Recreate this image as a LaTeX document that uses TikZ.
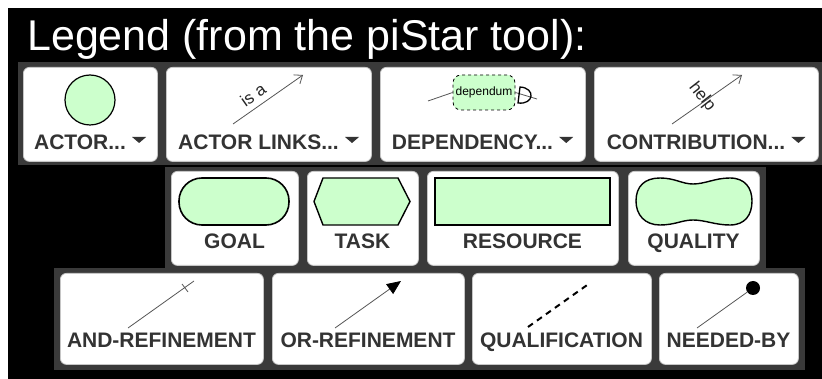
\documentclass[tikz,border=0pt]{standalone}
\usepackage{fontspec}
\setmainfont{Liberation Sans}
\usetikzlibrary{arrows.meta}
\definecolor{band}{HTML}{3A3A3A}
\definecolor{lg}{HTML}{CCFFCC}
\definecolor{lbl}{HTML}{333333}
\definecolor{lnk}{HTML}{555555}
\tikzset{
  btn/.style={fill=white, draw=gray!45, line width=0.8pt, rounded corners=6pt, anchor=north west, inner sep=0pt},
  lab/.style={font=\bfseries\fontsize{21}{21}\selectfont, text=lbl, anchor=base, inner sep=0pt},
  shp/.style={fill=lg, draw=black},
  lnkline/.style={draw=lnk, line width=0.8pt},
  small/.style={font=\fontsize{17}{17}\selectfont, text=black!85, inner sep=0pt},
  ddtri/.style={fill=lbl}
}
\begin{document}
\begin{tikzpicture}[x=1pt,y=-1pt]
\useasboundingbox (0,0) rectangle (822,379);
\fill[white] (0,0) rectangle (822,379);
\fill[black] (8,8) rectangle (822,379);
% bands
\fill[band] (18,62) rectangle (822,165);
\fill[band] (165,167) rectangle (766,268);
\fill[band] (54,268) rectangle (805,370);
% title
\node[font=\fontsize{43}{43}\selectfont, text=white, anchor=base west, inner sep=0pt] (title) at (27,51) {Legend (from the piStar tool):};
% row 1 buttons
\node[btn, minimum width=134, minimum height=94] (bA) at (23,67) {};
\node[btn, minimum width=205, minimum height=94] (bAL) at (166,67) {};
\node[btn, minimum width=205, minimum height=94] (bD) at (380,67) {};
\node[btn, minimum width=224, minimum height=94] (bC) at (594,67) {};
% row 2 buttons
\node[btn, minimum width=127, minimum height=94] (bG) at (171,171) {};
\node[btn, minimum width=111, minimum height=94] (bT) at (307,171) {};
\node[btn, minimum width=191, minimum height=94] (bR) at (427,171) {};
\node[btn, minimum width=131, minimum height=94] (bQ) at (628,171) {};
% row 3 buttons
\node[btn, minimum width=203, minimum height=91] (bAND) at (60,273) {};
\node[btn, minimum width=192, minimum height=91] (bOR) at (272,273) {};
\node[btn, minimum width=179, minimum height=91] (bQF) at (472,273) {};
\node[btn, minimum width=139, minimum height=91] (bNB) at (659,273) {};
% row 1 labels with dropdown triangles
\node[lab] (lA) at (80,150) {ACTOR...};
\node[lab] (lAL) at (258.5,150) {ACTOR LINKS...};
\node[lab] (lD) at (472.5,150) {DEPENDENCY...};
\node[lab] (lC) at (696,150) {CONTRIBUTION...};
\foreach \n in {lA,lAL,lD,lC}{
  \fill[ddtri] ([xshift=6pt,yshift=13pt]\n.base east) -- ++(14,0) -- ++(-7,6) -- cycle;
}
% row 2 labels
\node[lab] (lG) at (234.5,249) {GOAL};
\node[lab] (lT) at (362.5,249) {TASK};
\node[lab] (lR) at (522.5,249) {RESOURCE};
\node[lab] (lQ) at (693.5,249) {QUALITY};
% row 3 labels
\node[lab] (lAND) at (161.5,348) {AND-REFINEMENT};
\node[lab] (lOR) at (368,348) {OR-REFINEMENT};
\node[lab] (lQF) at (561.5,348) {QUALIFICATION};
\node[lab] (lNB) at (728.5,348) {NEEDED-BY};
% actor
\node[shp, circle, minimum size=50, line width=1.2pt, inner sep=0pt] (actor) at (90,100) {};
% actor link
\coordinate (al1) at (233,124);
\coordinate (al2) at (303,75);
\draw[lnkline, -{Straight Barb[length=7pt,width=11pt]}] (al1) -- (al2);
\node[small, rotate=35] (isa) at (253,95) {is a};
% dependency
\node[shp, dashed, line width=0.8pt, rounded corners=8pt, minimum width=62, minimum height=35, inner sep=0pt, font=\fontsize{12}{12}\selectfont] (dep) at (484,92.5) {dependum};
\coordinate (dl) at (428,101);
\coordinate (dr) at (537,99);
\draw[lnkline] (dl) -- (dep.west);
\draw[lnkline] (dep.east) -- (dr);
\draw[black, line width=1.3pt] (520,87) -- (518,103) .. controls (534,105) and (536,88) .. (520,87) -- cycle;
% contribution
\coordinate (c1) at (672,124);
\coordinate (c2) at (742,75);
\draw[lnkline, -{Straight Barb[length=7pt,width=11pt]}] (c1) -- (c2);
\node[small, rotate=-52] (help) at (702,97) {help};
% goal
\node[shp, line width=1.6pt, rounded corners=23pt, minimum width=110, minimum height=47, inner sep=0pt] (goal) at (234,201.5) {};
% task
\draw[shp, line width=1.4pt] (314,201.5) -- (323,178) -- (398,178) -- (410,201.5) -- (398,225) -- (323,225) -- cycle;
% resource
\draw[shp, line width=1.8pt] (435,178) rectangle (610,225);
% quality
\draw[shp, line width=1.4pt] (636,201) .. controls (636,186) and (645,178) .. (660,178) .. controls (675,178) and (682,184) .. (693,184) .. controls (705,184) and (715,178) .. (730,178) .. controls (745,178) and (752,188) .. (752,201) .. controls (752,215) and (745,225) .. (730,225) .. controls (715,225) and (705,220) .. (693,220) .. controls (682,220) and (675,225) .. (660,225) .. controls (645,225) and (636,215) .. (636,201) -- cycle;
% and-refinement
\coordinate (and1) at (128,328);
\coordinate (and2) at (194,281);
\draw[lnkline] (and1) -- (and2);
\draw[lnkline] (182,284) -- (188,292);
% or-refinement
\coordinate (or1) at (335,328);
\coordinate (or2) at (401,281);
\draw[lnkline, -{Triangle[length=14pt,width=12pt,color=black,fill=black]}] (or1) -- (or2);
% qualification
\coordinate (q1) at (528,327);
\coordinate (q2) at (590,283);
\draw[black, line width=2pt, dash pattern=on 6pt off 5pt] (q1) -- (q2);
% needed-by
\coordinate (nb1) at (697,328);
\node[circle, fill=black, minimum size=14, inner sep=0pt] (nbdot) at (753,288) {};
\draw[lnkline] (nb1) -- (nbdot);
\end{tikzpicture}
\end{document}
